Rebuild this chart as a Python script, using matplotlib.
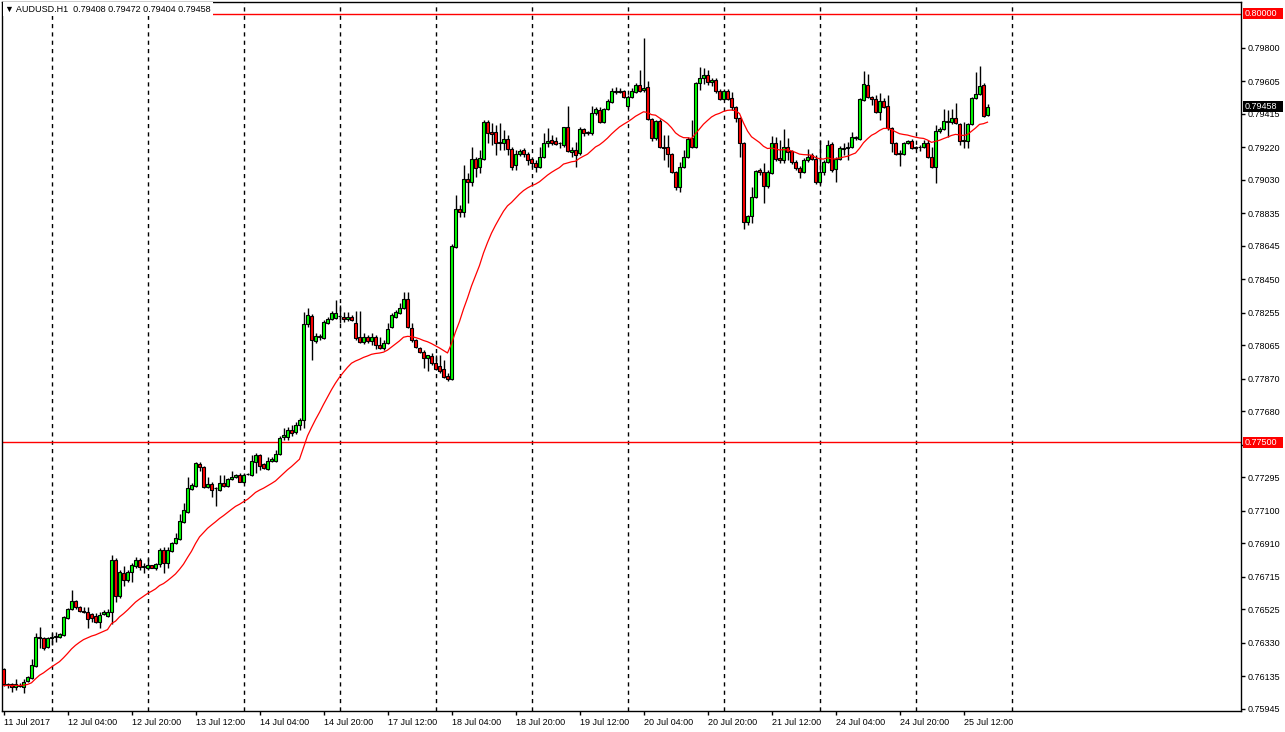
import matplotlib
matplotlib.use('Agg')
import matplotlib.pyplot as plt
from matplotlib.patches import Rectangle
import numpy as np

# AUDUSD H1, 11 Jul 2017 12:00 -> 25 Jul 2017 18:00 (one value per hourly bar)
symbol = "AUDUSD.H1"

opens = [
    0.76177, 0.76090, 0.76090, 0.76072, 0.76084, 0.76072, 0.76107, 0.76124, 0.76194, 0.76364,
    0.76358, 0.76305, 0.76358, 0.76364, 0.76364, 0.76375, 0.76475, 0.76527, 0.76574, 0.76539,
    0.76510, 0.76510, 0.76498, 0.76486, 0.76451, 0.76498, 0.76486, 0.76510, 0.76813, 0.76603,
    0.76737, 0.76696, 0.76743, 0.76778, 0.76813, 0.76772, 0.76766, 0.76784, 0.76766, 0.76790,
    0.76871, 0.76796, 0.76866, 0.76912, 0.76935, 0.77035, 0.77093, 0.77227, 0.77245, 0.77373,
    0.77355, 0.77239, 0.77256, 0.77233, 0.77221, 0.77262, 0.77245, 0.77285, 0.77297, 0.77309,
    0.77268, 0.77315, 0.77309, 0.77385, 0.77426, 0.77373, 0.77344, 0.77391, 0.77391, 0.77431,
    0.77531, 0.77531, 0.77571, 0.77560, 0.77601, 0.77630, 0.78190, 0.78236, 0.78091, 0.78114,
    0.78108, 0.78196, 0.78219, 0.78225, 0.78236, 0.78231, 0.78219, 0.78231, 0.78196, 0.78114,
    0.78085, 0.78114, 0.78091, 0.78114, 0.78067, 0.78050, 0.78079, 0.78172, 0.78231, 0.78254,
    0.78283, 0.78336, 0.78166, 0.78096, 0.78050, 0.78026, 0.77991, 0.78003, 0.77962, 0.77945,
    0.77927, 0.77886, 0.77869, 0.78639, 0.78861, 0.78843, 0.79036, 0.79018, 0.79152, 0.79106,
    0.79152, 0.79368, 0.79310, 0.79310, 0.79252, 0.79246, 0.79269, 0.79211, 0.79117, 0.79182,
    0.79205, 0.79182, 0.79152, 0.79129, 0.79106, 0.79164, 0.79246, 0.79263, 0.79257, 0.79246,
    0.79234, 0.79339, 0.79193, 0.79205, 0.79187, 0.79327, 0.79310, 0.79304, 0.79421, 0.79438,
    0.79368, 0.79444, 0.79485, 0.79549, 0.79543, 0.79549, 0.79462, 0.79514, 0.79543, 0.79584,
    0.79555, 0.79572, 0.79386, 0.79275, 0.79374, 0.79222, 0.79222, 0.79182, 0.79076, 0.78989,
    0.79106, 0.79164, 0.79275, 0.79222, 0.79596, 0.79625, 0.79643, 0.79602, 0.79613, 0.79549,
    0.79502, 0.79549, 0.79508, 0.79456, 0.79392, 0.79246, 0.78785, 0.78820, 0.78931, 0.79088,
    0.79076, 0.78995, 0.79071, 0.79246, 0.79158, 0.79147, 0.79222, 0.79199, 0.79135, 0.79100,
    0.79076, 0.79147, 0.79176, 0.79152, 0.79018, 0.79076, 0.79135, 0.79240, 0.79094, 0.79152,
    0.79216, 0.79216, 0.79222, 0.79275, 0.79269, 0.79497, 0.79584, 0.79514, 0.79502, 0.79426,
    0.79491, 0.79462, 0.79333, 0.79246, 0.79187, 0.79182, 0.79246, 0.79257, 0.79222, 0.79222,
    0.79222, 0.79246, 0.79164, 0.79106, 0.79316, 0.79327, 0.79368, 0.79368, 0.79392, 0.79356,
    0.79263, 0.79257, 0.79356, 0.79508, 0.79532, 0.79584, 0.79408,
]
highs = [
    0.76183, 0.76095, 0.76095, 0.76119, 0.76095, 0.76119, 0.76136, 0.76235, 0.76387, 0.76422,
    0.76364, 0.76364, 0.76387, 0.76393, 0.76387, 0.76486, 0.76533, 0.76638, 0.76580, 0.76545,
    0.76539, 0.76539, 0.76504, 0.76504, 0.76510, 0.76521, 0.76527, 0.76842, 0.76825, 0.76755,
    0.76778, 0.76755, 0.76796, 0.76831, 0.76825, 0.76796, 0.76825, 0.76786, 0.76796, 0.76883,
    0.76889, 0.76889, 0.76918, 0.76970, 0.77081, 0.77145, 0.77297, 0.77262, 0.77385, 0.77385,
    0.77361, 0.77297, 0.77268, 0.77239, 0.77309, 0.77309, 0.77291, 0.77332, 0.77315, 0.77320,
    0.77320, 0.77320, 0.77426, 0.77437, 0.77431, 0.77379, 0.77414, 0.77414, 0.77455, 0.77536,
    0.77583, 0.77589, 0.77601, 0.77618, 0.77641, 0.78260, 0.78283, 0.78248, 0.78137, 0.78131,
    0.78213, 0.78231, 0.78266, 0.78330, 0.78301, 0.78260, 0.78260, 0.78242, 0.78266, 0.78266,
    0.78137, 0.78126, 0.78137, 0.78126, 0.78114, 0.78096, 0.78196, 0.78254, 0.78271, 0.78312,
    0.78377, 0.78377, 0.78196, 0.78102, 0.78056, 0.78038, 0.78009, 0.78021, 0.78009, 0.78009,
    0.77980, 0.77904, 0.78657, 0.78942, 0.78884, 0.79117, 0.79071, 0.79222, 0.79164, 0.79205,
    0.79380, 0.79380, 0.79362, 0.79351, 0.79362, 0.79322, 0.79292, 0.79222, 0.79205, 0.79211,
    0.79216, 0.79193, 0.79158, 0.79147, 0.79222, 0.79304, 0.79333, 0.79292, 0.79281, 0.79252,
    0.79339, 0.79462, 0.79222, 0.79252, 0.79339, 0.79333, 0.79316, 0.79462, 0.79456, 0.79456,
    0.79450, 0.79502, 0.79567, 0.79572, 0.79567, 0.79555, 0.79526, 0.79567, 0.79596, 0.79672,
    0.79858, 0.79607, 0.79392, 0.79380, 0.79386, 0.79292, 0.79292, 0.79187, 0.79082, 0.79135,
    0.79205, 0.79281, 0.79380, 0.79602, 0.79689, 0.79683, 0.79672, 0.79625, 0.79625, 0.79561,
    0.79561, 0.79561, 0.79543, 0.79459, 0.79397, 0.79252, 0.78826, 0.78989, 0.79088, 0.79100,
    0.79129, 0.79088, 0.79286, 0.79281, 0.79263, 0.79327, 0.79275, 0.79205, 0.79147, 0.79112,
    0.79158, 0.79211, 0.79187, 0.79176, 0.79263, 0.79147, 0.79263, 0.79252, 0.79164, 0.79228,
    0.79246, 0.79252, 0.79310, 0.79286, 0.79508, 0.79666, 0.79648, 0.79520, 0.79526, 0.79537,
    0.79508, 0.79526, 0.79339, 0.79252, 0.79205, 0.79252, 0.79263, 0.79269, 0.79228, 0.79234,
    0.79263, 0.79263, 0.79222, 0.79351, 0.79339, 0.79444, 0.79438, 0.79444, 0.79479, 0.79362,
    0.79368, 0.79362, 0.79514, 0.79660, 0.79695, 0.79596, 0.79472,
]
lows = [
    0.76078, 0.76066, 0.76043, 0.76055, 0.76072, 0.76037, 0.76101, 0.76119, 0.76189, 0.76300,
    0.76288, 0.76300, 0.76317, 0.76335, 0.76358, 0.76370, 0.76469, 0.76521, 0.76527, 0.76510,
    0.76504, 0.76416, 0.76451, 0.76446, 0.76416, 0.76492, 0.76480, 0.76440, 0.76568, 0.76592,
    0.76661, 0.76685, 0.76685, 0.76766, 0.76755, 0.76737, 0.76755, 0.76766, 0.76755, 0.76772,
    0.76737, 0.76766, 0.76860, 0.76906, 0.76930, 0.77029, 0.77087, 0.77221, 0.77239, 0.77332,
    0.77233, 0.77233, 0.77180, 0.77128, 0.77215, 0.77239, 0.77239, 0.77280, 0.77291, 0.77268,
    0.77262, 0.77309, 0.77303, 0.77320, 0.77338, 0.77344, 0.77338, 0.77385, 0.77385, 0.77426,
    0.77513, 0.77513, 0.77536, 0.77548, 0.77571, 0.77583, 0.78172, 0.77980, 0.78079, 0.78096,
    0.78102, 0.78190, 0.78213, 0.78219, 0.78196, 0.78201, 0.78207, 0.78207, 0.78096, 0.78079,
    0.78073, 0.78079, 0.78067, 0.78044, 0.78044, 0.78038, 0.78073, 0.78166, 0.78225, 0.78248,
    0.78277, 0.78166, 0.78085, 0.78050, 0.78021, 0.77933, 0.77916, 0.77951, 0.77921, 0.77904,
    0.77875, 0.77857, 0.77863, 0.78633, 0.78814, 0.78814, 0.78896, 0.78995, 0.79047, 0.79071,
    0.79147, 0.79246, 0.79234, 0.79176, 0.79205, 0.79205, 0.79176, 0.79088, 0.79088, 0.79170,
    0.79164, 0.79117, 0.79106, 0.79076, 0.79100, 0.79158, 0.79222, 0.79234, 0.79234, 0.79216,
    0.79222, 0.79193, 0.79164, 0.79106, 0.79176, 0.79286, 0.79292, 0.79292, 0.79409, 0.79362,
    0.79362, 0.79438, 0.79479, 0.79532, 0.79537, 0.79508, 0.79450, 0.79508, 0.79537, 0.79543,
    0.79543, 0.79380, 0.79257, 0.79263, 0.79216, 0.79147, 0.79106, 0.79071, 0.78972, 0.78960,
    0.79100, 0.79158, 0.79216, 0.79216, 0.79555, 0.79590, 0.79584, 0.79578, 0.79537, 0.79497,
    0.79497, 0.79497, 0.79438, 0.79368, 0.79164, 0.78744, 0.78768, 0.78779, 0.78925, 0.79059,
    0.78896, 0.78983, 0.79065, 0.79141, 0.79129, 0.79129, 0.79147, 0.79123, 0.79088, 0.79042,
    0.79071, 0.79135, 0.79147, 0.79007, 0.79007, 0.79059, 0.79129, 0.79076, 0.79018, 0.79147,
    0.79176, 0.79147, 0.79216, 0.79263, 0.79263, 0.79491, 0.79508, 0.79467, 0.79421, 0.79380,
    0.79450, 0.79322, 0.79193, 0.79176, 0.79112, 0.79176, 0.79240, 0.79211, 0.79211, 0.79199,
    0.79216, 0.79158, 0.79100, 0.79012, 0.79304, 0.79322, 0.79281, 0.79356, 0.79356, 0.79234,
    0.79216, 0.79216, 0.79351, 0.79502, 0.79526, 0.79397, 0.79404,
]
closes = [
    0.76090, 0.76084, 0.76072, 0.76090, 0.76078, 0.76101, 0.76130, 0.76200, 0.76364, 0.76358,
    0.76300, 0.76358, 0.76364, 0.76370, 0.76381, 0.76480, 0.76527, 0.76574, 0.76539, 0.76516,
    0.76513, 0.76469, 0.76475, 0.76451, 0.76492, 0.76510, 0.76510, 0.76813, 0.76603, 0.76743,
    0.76696, 0.76743, 0.76784, 0.76813, 0.76772, 0.76775, 0.76784, 0.76766, 0.76790, 0.76871,
    0.76796, 0.76871, 0.76912, 0.76941, 0.77041, 0.77105, 0.77233, 0.77250, 0.77379, 0.77355,
    0.77239, 0.77256, 0.77221, 0.77230, 0.77262, 0.77245, 0.77285, 0.77297, 0.77309, 0.77268,
    0.77309, 0.77312, 0.77391, 0.77426, 0.77361, 0.77350, 0.77391, 0.77402, 0.77431, 0.77525,
    0.77542, 0.77571, 0.77554, 0.77601, 0.77630, 0.78190, 0.78242, 0.78096, 0.78120, 0.78120,
    0.78201, 0.78219, 0.78254, 0.78254, 0.78239, 0.78219, 0.78231, 0.78213, 0.78108, 0.78085,
    0.78114, 0.78091, 0.78114, 0.78067, 0.78050, 0.78079, 0.78161, 0.78242, 0.78260, 0.78283,
    0.78336, 0.78172, 0.78096, 0.78056, 0.78026, 0.77991, 0.78009, 0.77962, 0.77927, 0.77916,
    0.77881, 0.77869, 0.78645, 0.78861, 0.78843, 0.79036, 0.79018, 0.79152, 0.79100, 0.79158,
    0.79368, 0.79304, 0.79298, 0.79246, 0.79246, 0.79269, 0.79211, 0.79106, 0.79182, 0.79199,
    0.79182, 0.79147, 0.79129, 0.79106, 0.79164, 0.79246, 0.79257, 0.79246, 0.79240, 0.79243,
    0.79336, 0.79199, 0.79205, 0.79176, 0.79327, 0.79304, 0.79306, 0.79421, 0.79444, 0.79368,
    0.79444, 0.79491, 0.79549, 0.79543, 0.79549, 0.79514, 0.79514, 0.79549, 0.79584, 0.79549,
    0.79567, 0.79386, 0.79275, 0.79374, 0.79222, 0.79216, 0.79182, 0.79076, 0.78989, 0.79106,
    0.79164, 0.79269, 0.79222, 0.79596, 0.79625, 0.79643, 0.79602, 0.79613, 0.79549, 0.79502,
    0.79549, 0.79502, 0.79456, 0.79392, 0.79246, 0.78785, 0.78820, 0.78931, 0.79085, 0.79076,
    0.78995, 0.79076, 0.79246, 0.79152, 0.79147, 0.79222, 0.79193, 0.79135, 0.79100, 0.79076,
    0.79147, 0.79164, 0.79152, 0.79018, 0.79076, 0.79135, 0.79234, 0.79088, 0.79152, 0.79216,
    0.79213, 0.79222, 0.79281, 0.79281, 0.79502, 0.79590, 0.79514, 0.79502, 0.79426, 0.79491,
    0.79456, 0.79333, 0.79246, 0.79182, 0.79182, 0.79246, 0.79257, 0.79216, 0.79219, 0.79225,
    0.79246, 0.79164, 0.79106, 0.79316, 0.79327, 0.79374, 0.79371, 0.79392, 0.79362, 0.79257,
    0.79257, 0.79356, 0.79508, 0.79532, 0.79578, 0.79403, 0.79458,
]

time_labels = [
    "11 Jul 2017", "12 Jul 04:00", "12 Jul 20:00", "13 Jul 12:00", "14 Jul 04:00",
    "14 Jul 20:00", "17 Jul 12:00", "18 Jul 04:00", "18 Jul 20:00", "19 Jul 12:00",
    "20 Jul 04:00", "20 Jul 20:00", "21 Jul 12:00", "24 Jul 04:00", "24 Jul 20:00",
    "25 Jul 12:00",
]
price_ticks = [
    0.79800, 0.79605, 0.79415, 0.79220, 0.79030, 0.78835, 0.78645, 0.78450, 0.78255,
    0.78065, 0.77870, 0.77680, 0.77485, 0.77295, 0.77100, 0.76910, 0.76715, 0.76525,
    0.76330, 0.76135, 0.75945,
]
level_lines = [0.80000, 0.77500]

ma_period = 22
ma_start = 0.76080   # MA value at the first visible bar

W, H = 1285, 732
Y_TOP, Y_BOT = 0.80068, 0.75932
plt.rcParams['font.family'] = ['Liberation Sans', 'DejaVu Sans']

fig = plt.figure(figsize=(W / 100, H / 100), dpi=100)
fig.patch.set_facecolor('white')
ax = fig.add_axes([2 / W, 1 - 711 / H, 1239 / W, 709 / H])

o = np.array(opens)
h = np.array(highs)
l = np.array(lows)
c = np.array(closes)
n = len(c)
x = np.arange(n)

# exponential moving average of the closes
alpha = 2.0 / (ma_period + 1)
ma = np.empty(n)
prev = ma_start
for k in range(n):
    prev = prev + alpha * (c[k] - prev)
    ma[k] = prev

# day separators (midnight bars), bar 12 = 12 Jul 00:00
for d in range(12, n + 24, 24):
    ax.axvline(d, color='black', lw=1, ls=(0, (3, 3)), zorder=1)

for lvl in level_lines:
    ax.axhline(lvl, color='red', lw=1, zorder=2)

ax.vlines(x, l, h, color='black', lw=1, zorder=3)
up = c >= o
body_lo = np.minimum(o, c)
body_h = np.abs(c - o)
ax.bar(x[up], body_h[up], bottom=body_lo[up], width=0.7, color='#00ff00',
       edgecolor='black', lw=0.8, zorder=4)
ax.bar(x[~up], body_h[~up], bottom=body_lo[~up], width=0.7, color='#ff0000',
       edgecolor='black', lw=0.8, zorder=4)

ax.plot(x, ma, color='red', lw=0.9, zorder=5)

ax.set_xlim(-0.375, -0.375 + 1239 / 4)
ax.set_ylim(Y_BOT, Y_TOP)

for s in ax.spines.values():
    s.set_color('black')
    s.set_linewidth(1)

ax.yaxis.tick_right()
ax.set_yticks(price_ticks)
# the 0.7750 tag sits on top of this scale label, as in the terminal
ax.set_yticklabels(["" if abs(p - level_lines[1]) < 0.0002 else f"{p:.5f}"
                    for p in price_ticks])
ax.tick_params(axis='y', direction='out', length=3, width=1, pad=2,
               labelsize=6.5, colors='black')

ax.set_xticks(np.arange(0, n, 16)[:len(time_labels)])
ax.set_xticklabels(time_labels)
ax.tick_params(axis='x', direction='out', length=3, width=1, pad=2,
               labelsize=6.5, colors='black')
for lab in ax.get_xticklabels():
    lab.set_ha('left')


def price_tag(value, face):
    ypix = 2 + (Y_TOP - value) / (Y_TOP - Y_BOT) * 709
    fig.add_artist(Rectangle((1243 / W, 1 - (ypix + 5.5) / H), 40 / W, 11 / H,
                             transform=fig.transFigure, facecolor=face,
                             edgecolor='none', zorder=10))
    fig.text(1245 / W, 1 - ypix / H, f"{value:.5f}", color='white', fontsize=6.5,
             va='center', ha='left', zorder=11)


for lvl in level_lines:
    price_tag(lvl, 'red')
price_tag(c[-1], 'black')

title = f"\u25bc {symbol}  {o[-1]:.5f} {h[-1]:.5f} {l[-1]:.5f} {c[-1]:.5f}"
fig.text(5 / W, 1 - 9 / H, title, fontsize=6.5, va='center', ha='left', zorder=12,
         bbox=dict(facecolor='white', edgecolor='none', pad=1.5))

fig.savefig('out.png', dpi=100, facecolor='white')
